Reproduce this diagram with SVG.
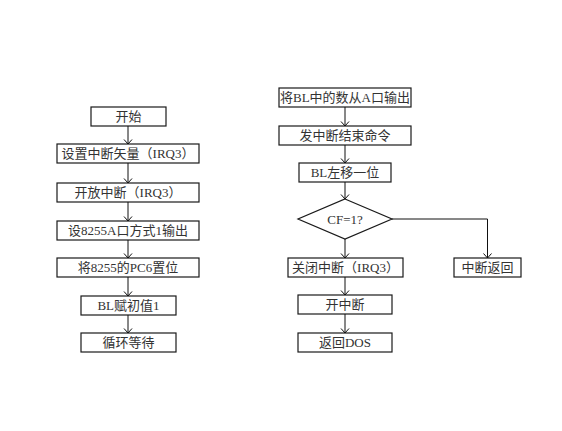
<svg xmlns="http://www.w3.org/2000/svg" width="562" height="431" viewBox="0 0 562 431">
  <style>
    .box { fill: #ffffff; stroke: #1a1a1a; stroke-width: 1.2; }
    .lbl { font-family: "Liberation Serif", "Noto Sans CJK SC", serif; font-size: 13px; fill: #333333; text-anchor: middle; }
    .edge { fill: none; stroke: #111111; stroke-width: 1; marker-end: url(#arr); }
  </style>
  <defs>
    <marker id="arr" viewBox="-6 -5 7 10" markerWidth="7" markerHeight="10" refX="0" refY="0" orient="auto" markerUnits="userSpaceOnUse">
      <path d="M-4.5,-4 L0,0 L-4.5,4" fill="none" stroke="#111111" stroke-width="1"/>
    </marker>
  </defs>
  <rect width="562" height="431" fill="#ffffff"/>

  <!-- main program -->
  <g id="start"><rect class="box" x="91" y="107" width="75" height="19"/><text class="lbl" x="128.5" y="121">开始</text></g>
  <g id="set-vector"><rect class="box" x="57" y="144" width="142" height="19"/><text class="lbl" x="128" y="158">设置中断矢量（IRQ3）</text></g>
  <g id="enable-irq"><rect class="box" x="57" y="183" width="142" height="19"/><text class="lbl" x="128" y="197">开放中断（IRQ3）</text></g>
  <g id="mode1-out"><rect class="box" x="57" y="221" width="142" height="19"/><text class="lbl" x="128" y="235">设8255A口方式1输出</text></g>
  <g id="set-pc6"><rect class="box" x="57" y="258" width="142" height="19"/><text class="lbl" x="128" y="272">将8255的PC6置位</text></g>
  <g id="init-bl"><rect class="box" x="81" y="296" width="95" height="19"/><text class="lbl" x="128.5" y="310">BL赋初值1</text></g>
  <g id="wait"><rect class="box" x="81" y="333" width="95" height="19"/><text class="lbl" x="128.5" y="347">循环等待</text></g>

  <!-- interrupt service routine -->
  <g id="output-bl"><rect class="box" x="279" y="88" width="132" height="19"/><text class="lbl" x="345" y="102">将BL中的数从A口输出</text></g>
  <g id="send-eoi"><rect class="box" x="279" y="126" width="132" height="19"/><text class="lbl" x="345" y="140">发中断结束命令</text></g>
  <g id="shift-bl"><rect class="box" x="299" y="163" width="92" height="19"/><text class="lbl" x="345" y="177">BL左移一位</text></g>
  <g id="test-cf"><polygon class="box" points="345,199 392,219 345,239 298,219"/><text class="lbl" x="345" y="224">CF=1?</text></g>
  <g id="disable-irq"><rect class="box" x="288" y="258" width="115" height="19"/><text class="lbl" x="345.5" y="272">关闭中断（IRQ3）</text></g>
  <g id="iret"><rect class="box" x="454" y="258" width="67" height="19"/><text class="lbl" x="487.5" y="272">中断返回</text></g>
  <g id="sti"><rect class="box" x="298" y="295" width="94" height="19"/><text class="lbl" x="345" y="309">开中断</text></g>
  <g id="to-dos"><rect class="box" x="298" y="333" width="94" height="19"/><text class="lbl" x="345" y="347">返回DOS</text></g>

  <g id="connectors">
    <line class="edge" x1="128" y1="126" x2="128" y2="144"/>
    <line class="edge" x1="128" y1="163" x2="128" y2="183"/>
    <line class="edge" x1="128" y1="202" x2="128" y2="221"/>
    <line class="edge" x1="128" y1="240" x2="128" y2="258"/>
    <line class="edge" x1="128" y1="277" x2="128" y2="296"/>
    <line class="edge" x1="128" y1="315" x2="128" y2="333"/>

    <line class="edge" x1="345" y1="107" x2="345" y2="126"/>
    <line class="edge" x1="345" y1="145" x2="345" y2="163"/>
    <line class="edge" x1="345" y1="182" x2="345" y2="199"/>
    <line class="edge" x1="345" y1="239" x2="345" y2="258"/>
    <polyline class="edge" points="392,219 487.5,219 487.5,258"/>
    <line class="edge" x1="345" y1="277" x2="345" y2="295"/>
    <line class="edge" x1="345" y1="314" x2="345" y2="333"/>
  </g>
</svg>
